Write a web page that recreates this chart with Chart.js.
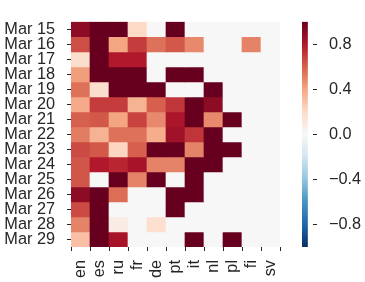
<!DOCTYPE html>
<html>
<head>
<meta charset="utf-8">
<script src="https://cdn.jsdelivr.net/npm/chart.js@4/dist/chart.umd.min.js"></script>
<style>
  body { margin: 0; background: #fff; }
  #wrap { position: relative; width: 365px; height: 282px; }
  #wrap canvas { position: absolute; left: 0; top: 0; }
</style>
</head>
<body>
<div id="wrap">
  <canvas id="heat_chart" width="365" height="282"></canvas>
  <canvas id="bar_chart" width="365" height="282"></canvas>
</div>
<script>
// heatmap data, rows are days, columns are languages
const days = ['Mar 15', 'Mar 16', 'Mar 17', 'Mar 18', 'Mar 19', 'Mar 20', 'Mar 21', 'Mar 22',
    'Mar 23', 'Mar 24', 'Mar 25', 'Mar 26', 'Mar 27', 'Mar 28', 'Mar 29'];
const langs = ['en', 'es', 'ru', 'fr', 'de', 'pt', 'it', 'nl', 'pl', 'fi', 'sv'];

const mar15 = [0.9, 1, 1, 0.2, 0, 1, 0, 0, 0, 0, 0];
const mar16 = [0.65, 1, 0.4, 0.7, 0.55, 0.62, 0.48, 0, 0, 0.5, 0];
const mar17 = [0.18, 1, 0.8, 0.8, 0, 0, 0, 0, 0, 0, 0];
const mar18 = [0.42, 1, 1, 1, 0, 1, 1, 0, 0, 0, 0];
const mar19 = [0.55, 0.18, 1, 1, 1, 0, 0, 1, 0, 0, 0];
const mar20 = [0.38, 0.7, 0.7, 0.35, 0.6, 0.72, 1, 0.9, 0, 0, 0];
const mar21 = [0.6, 0.62, 0.4, 0.68, 0.48, 0.82, 1, 0.48, 1, 0, 0];
const mar22 = [0.52, 0.35, 0.55, 0.55, 0.37, 0.85, 0.72, 1, 0, 0, 0];
const mar23 = [0.66, 0.62, 0.22, 0.6, 1, 1, 0.5, 1, 1, 0, 0];
const mar24 = [0.63, 0.8, 0.76, 0.83, 0.5, 0.5, 1, 1, 0, 0, 0];
const mar25 = [0.63, 0, 1, 0.5, 1, 0, 1, 0, 0, 0, 0];
const mar26 = [0.9, 1, 0.56, 0, 0, 1, 1, 0, 0, 0, 0];
const mar27 = [0.66, 1, 0, 0, 0, 1, 0, 0, 0, 0, 0];
const mar28 = [0.5, 1, 0.08, 0, 0.17, 0, 0, 0, 0, 0, 0];
const mar29 = [0.3, 1, 0.83, 0, 0, 0, 1, 0, 1, 0, 0];

const rows = [mar15, mar16, mar17, mar18, mar19, mar20, mar21, mar22,
    mar23, mar24, mar25, mar26, mar27, mar28, mar29];

// colorbar ticks
const barTicks = [-0.8, -0.4, 0, 0.4, 0.8];

// RdBu_r colormap, -1 (blue) to 1 (red)
const cmap = ['#053061', '#2166ac', '#4393c3', '#92c5de', '#d1e5f0', '#f7f7f7',
    '#fddbc7', '#f4a582', '#d6604d', '#b2182b', '#67001f'];

function hexToRgb(h) {
    return [parseInt(h.slice(1, 3), 16), parseInt(h.slice(3, 5), 16), parseInt(h.slice(5, 7), 16)];
}

function colorFor(v) {
    let t = (Math.max(-1, Math.min(1, v)) + 1) / 2 * (cmap.length - 1);
    let i = Math.min(Math.floor(t), cmap.length - 2);
    let f = t - i;
    const a = hexToRgb(cmap[i]);
    const b = hexToRgb(cmap[i + 1]);
    const c = a.map((x, k) => Math.round(x + (b[k] - x) * f));
    return 'rgb(' + c.join(',') + ')';
}

const textColor = '#262626';
const font = { family: 'Liberation Sans, Arial, sans-serif', size: 16.3 };

// one floating bar per cell
let datasets = [];
for (i = 0; i < rows.length; i++) {
    datasets.push({
        label: days[i],
        data: langs.map((l) => ({ x: l, y: [i, i + 1] })),
        backgroundColor: rows[i].map((v) => colorFor(v)),
        borderWidth: 0,
        barPercentage: 1,
        categoryPercentage: 1,
        grouped: false
    });
}

const ctx = document.getElementById('heat_chart').getContext('2d');
const heatChart = new Chart(ctx, {
    type: 'bar',
    data: { labels: langs, datasets: datasets },
    options: {
        responsive: false,
        animation: false,
        layout: { padding: { left: 0, right: 85, top: 9, bottom: 0 } },
        plugins: { legend: { display: false }, tooltip: { enabled: false } },
        scales: {
            x: {
                type: 'category',
                offset: true,
                grid: { drawOnChartArea: false, drawTicks: true, tickLength: 4, color: textColor },
                border: { display: false },
                ticks: { color: textColor, font: font, minRotation: 90, maxRotation: 90, padding: 9, autoSkip: false },
                afterFit: (scale) => { scale.height = 35; }
            },
            y: {
                type: 'linear',
                min: 0,
                max: 15,
                reverse: true,
                grid: { drawOnChartArea: false, drawTicks: true, tickLength: 4, color: textColor },
                border: { display: false },
                afterBuildTicks: (scale) => {
                    scale.ticks = days.map((d, i) => ({ value: i + 0.5 }));
                },
                ticks: {
                    color: textColor,
                    font: font,
                    padding: 12,
                    autoSkip: false,
                    callback: (v) => days[Math.round(v - 0.5)]
                },
                afterFit: (scale) => { scale.width = 71; }
            }
        }
    }
});

// colorbar as a single floating bar with gradient fill
const ctx2 = document.getElementById('bar_chart').getContext('2d');
const barChart = new Chart(ctx2, {
    type: 'bar',
    data: {
        labels: [''],
        datasets: [{
            data: [[-1, 1]],
            borderWidth: 0,
            barPercentage: 1,
            categoryPercentage: 1,
            backgroundColor: (c) => {
                const area = c.chart.chartArea;
                if (!area) return null;
                const g = c.chart.ctx.createLinearGradient(0, area.bottom, 0, area.top);
                for (let k = 0; k <= 40; k++) {
                    g.addColorStop(k / 40, colorFor(-1 + 2 * k / 40));
                }
                return g;
            }
        }]
    },
    options: {
        responsive: false,
        animation: false,
        layout: { padding: { left: 302, right: 0, top: 9, bottom: 35 } },
        plugins: { legend: { display: false }, tooltip: { enabled: false } },
        scales: {
            x: { display: false, offset: false },
            y: {
                type: 'linear',
                position: 'right',
                min: -1,
                max: 1,
                grid: { drawOnChartArea: false, drawTicks: true, tickLength: 4, color: textColor },
                border: { display: false },
                afterBuildTicks: (scale) => {
                    scale.ticks = barTicks.map((v) => ({ value: v }));
                },
                ticks: {
                    color: textColor,
                    font: font,
                    padding: 12,
                    callback: (v) => v.toFixed(1).replace('-', '\u2212')
                },
                afterFit: (scale) => { scale.width = 52; }
            }
        }
    }
});
</script>
</body>
</html>
